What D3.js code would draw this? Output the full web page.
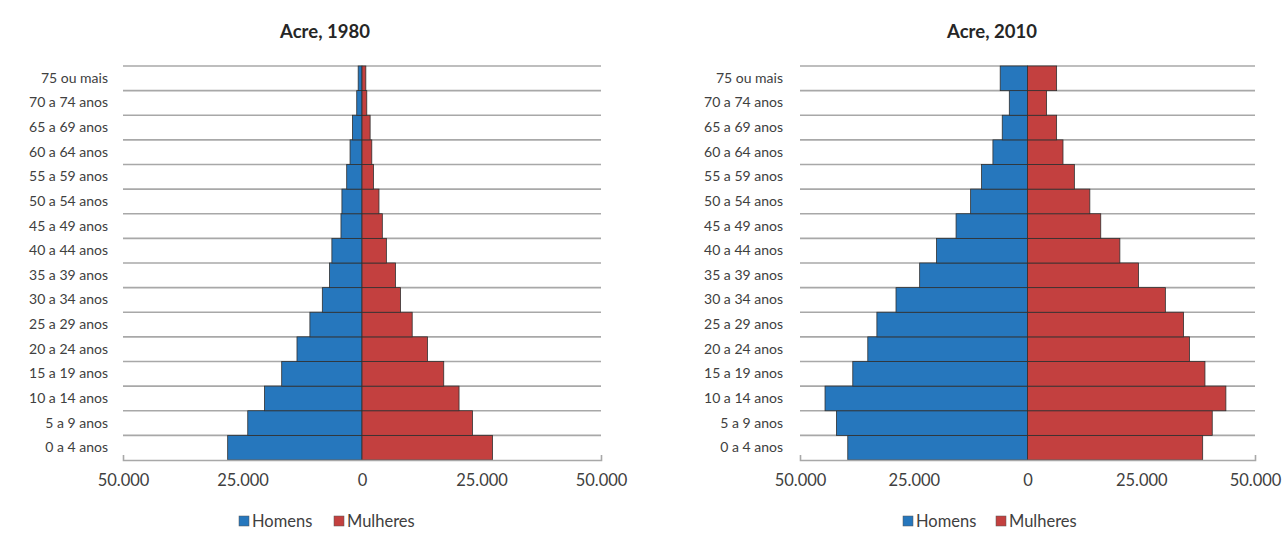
<!DOCTYPE html>
<html>
<head>
<meta charset="utf-8">
<script src="https://cdn.jsdelivr.net/npm/d3@7"></script>
<style>
  html, body { margin: 0; padding: 0; background: #ffffff; }
  svg { display: block; font-family: Lato, "Open Sans", sans-serif; }
</style>
</head>
<body>
<svg id="chart" width="1285" height="533"></svg>
<script>
// ---- data ----
const categories = ["0 a 4 anos","5 a 9 anos","10 a 14 anos","15 a 19 anos","20 a 24 anos","25 a 29 anos","30 a 34 anos","35 a 39 anos","40 a 44 anos","45 a 49 anos","50 a 54 anos","55 a 59 anos","60 a 64 anos","65 a 69 anos","70 a 74 anos","75 ou mais"];
const homens1980   = [28100, 23900, 20400, 16800, 13600, 10900, 8300, 6800, 6300, 4400, 4200, 3200, 2500, 2000, 1100, 800];
const mulheres1980 = [27300, 23100, 20300, 17100, 13700, 10500, 8050, 7000, 5100, 4250, 3550, 2400, 2050, 1700, 1000, 800];
const homens2010   = [39500, 42000, 44500, 38400, 35100, 33100, 28900, 23700, 20000, 15700, 12500, 10100, 7600, 5550, 4000, 6000];
const mulheres2010 = [38500, 40600, 43600, 39000, 35600, 34300, 30300, 24400, 20300, 16100, 13700, 10300, 7800, 6400, 4200, 6400];
const tickValues = [-50000, -25000, 0, 25000, 50000];
const tickLabels = ["50.000", "25.000", "0", "25.000", "50.000"];
const seriesNames = ["Homens", "Mulheres"];
const titles = ["Acre, 1980", "Acre, 2010"];

const colors = { men: "#2677bd", women: "#c3403f", grid: "#a8a8a8", text: "#404040", stroke: "#303030" };

const svg = d3.select("#chart");

function pyramid(cfg) {
  const g = svg.append("g");
  const x = d3.scaleLinear().domain([-50000, 50000]).range([cfg.x0, cfg.x1]);
  const y = d3.scaleBand().domain(categories).range([cfg.y1, cfg.y0]).padding(0);

  // title
  g.append("text")
    .attr("x", cfg.titleX).attr("y", 38)
    .attr("text-anchor", "middle")
    .attr("font-size", 18.5).attr("font-weight", "bold")
    .attr("fill", "#262626")
    .text(cfg.title);

  // gridlines at band boundaries
  const bounds = categories.map(c => y(c));
  g.append("g").selectAll("line").data(bounds).join("line")
    .attr("x1", cfg.x0).attr("x2", cfg.x1)
    .attr("y1", d => d).attr("y2", d => d)
    .attr("stroke", colors.grid).attr("stroke-width", 1.6);

  // bars
  g.append("g").selectAll("rect").data(categories.map((c, i) => ({c, v: cfg.men[i]}))).join("rect")
    .attr("x", d => x(-d.v)).attr("width", d => x(0) - x(-d.v))
    .attr("y", d => y(d.c)).attr("height", y.bandwidth())
    .attr("fill", colors.men).attr("stroke", colors.stroke).attr("stroke-width", 0.8);
  g.append("g").selectAll("rect").data(categories.map((c, i) => ({c, v: cfg.women[i]}))).join("rect")
    .attr("x", x(0)).attr("width", d => x(d.v) - x(0))
    .attr("y", d => y(d.c)).attr("height", y.bandwidth())
    .attr("fill", colors.women).attr("stroke", colors.stroke).attr("stroke-width", 0.8);

  // y labels
  const ya = d3.axisLeft(y).tickSize(0).tickPadding(cfg.labelPad);
  const yg = g.append("g").attr("transform", `translate(${cfg.x0},0)`).call(ya);
  yg.select(".domain").remove();
  yg.selectAll("text").attr("font-size", 14).attr("fill", colors.text).attr("font-family", "Lato, sans-serif");

  // x axis
  const xa = d3.axisBottom(x).tickValues(tickValues)
    .tickFormat((d, i) => tickLabels[i])
    .tickSizeInner(0).tickSizeOuter(-5).tickPadding(14);
  const xg = g.append("g").attr("transform", `translate(0,${cfg.y1})`).call(xa);
  xg.select(".domain").attr("stroke", colors.grid).attr("stroke-width", 1.6);
  xg.selectAll("text").attr("font-size", 16.5).attr("fill", colors.text).attr("font-family", "Lato, sans-serif");

  // legend
  const lg = g.append("g").attr("transform", `translate(${cfg.legendX},0)`);
  const items = [{name: seriesNames[0], color: colors.men, dx: 0}, {name: seriesNames[1], color: colors.women, dx: cfg.legendGap}];
  items.forEach(it => {
    lg.append("rect").attr("x", it.dx).attr("y", 516).attr("width", 10).attr("height", 10)
      .attr("fill", it.color).attr("stroke", "#555").attr("stroke-width", 0.5);
    lg.append("text").attr("x", it.dx + 13).attr("y", 527)
      .attr("font-size", 16.5).attr("fill", colors.text).text(it.name);
  });
}

pyramid({ title: titles[0], titleX: 325, x0: 123, x1: 601, y0: 66, y1: 460, labelPad: 15,
          men: homens1980, women: mulheres1980, legendX: 239, legendGap: 95 });
pyramid({ title: titles[1], titleX: 992, x0: 800, x1: 1255, y0: 66, y1: 460, labelPad: 17,
          men: homens2010, women: mulheres2010, legendX: 903, legendGap: 93 });
</script>
</body>
</html>
